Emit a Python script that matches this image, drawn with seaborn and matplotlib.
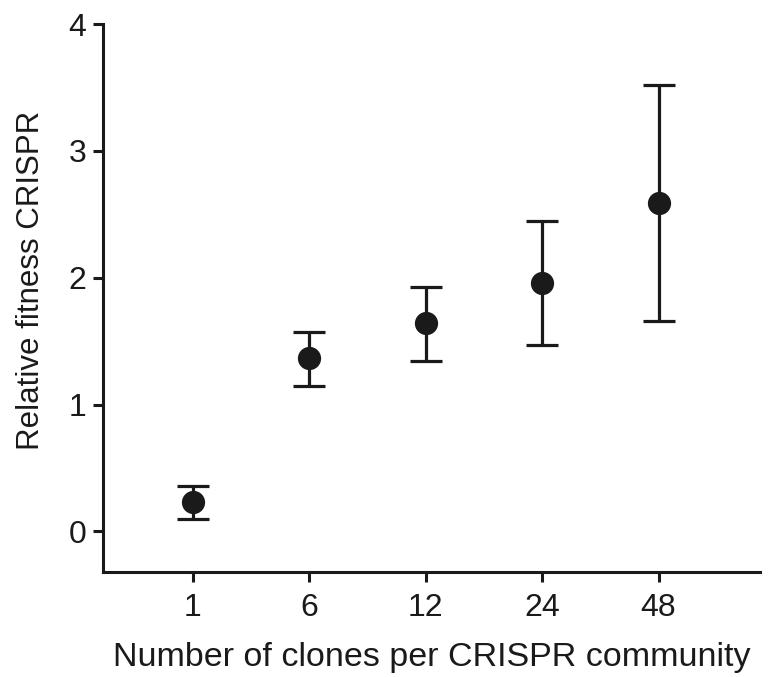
import numpy as np
import pandas as pd
import matplotlib
matplotlib.use("Agg")
import matplotlib.pyplot as plt
import seaborn as sns

clones = ["1", "6", "12", "24", "48"]
fitness = [0.23, 1.37, 1.64, 1.96, 2.59]
err_low = [0.10, 1.15, 1.34, 1.47, 1.66]
err_high = [0.36, 1.57, 1.93, 2.45, 3.52]

ink = "#1a1a1a"
xlabel_size = 24.5
ylabel_size = 22.5
tick_size = 23

sns.set_style("ticks")
plt.rcParams['font.family'] = ['Liberation Sans', 'DejaVu Sans']

df = pd.DataFrame({"clones": clones, "fitness": fitness})
pos = np.arange(len(clones))

fig = plt.figure(figsize=(7.73, 6.77), dpi=100)
ax = fig.add_axes([0.1332, 0.155, 0.983 - 0.1332, 0.9645 - 0.155])

# error bars first, points on top
ax.errorbar(pos, fitness,
            yerr=[np.array(fitness) - np.array(err_low), np.array(err_high) - np.array(fitness)],
            fmt='none', ecolor=ink, elinewidth=2.3, capsize=11.5, capthick=2.3, zorder=2)
sns.scatterplot(data=df, x=pos, y="fitness", ax=ax, color=ink, s=280,
                edgecolor=ink, linewidth=0, zorder=3, legend=False)

ax.set_xticks(pos)
ax.set_xticklabels(clones)
ax.set_xlim(-0.77, 4.87)
ax.set_ylim(-0.32, 4)
ax.set_yticks([0, 1, 2, 3, 4])

ax.set_xlabel("Number of clones per CRISPR community", fontsize=xlabel_size, color=ink, labelpad=14)
ax.set_ylabel("Relative fitness CRISPR", fontsize=ylabel_size, color=ink, labelpad=16)
ax.yaxis.label.set_y(0.533)
ax.tick_params(axis='both', labelsize=tick_size, direction='out', length=7, width=2.2,
               color=ink, labelcolor=ink)
ax.tick_params(axis='x', pad=8)
ax.tick_params(axis='y', pad=5)

sns.despine(ax=ax)
for side in ["left", "bottom"]:
    ax.spines[side].set_linewidth(2.2)
    ax.spines[side].set_color(ink)

fig.savefig("out.png", dpi=100)
